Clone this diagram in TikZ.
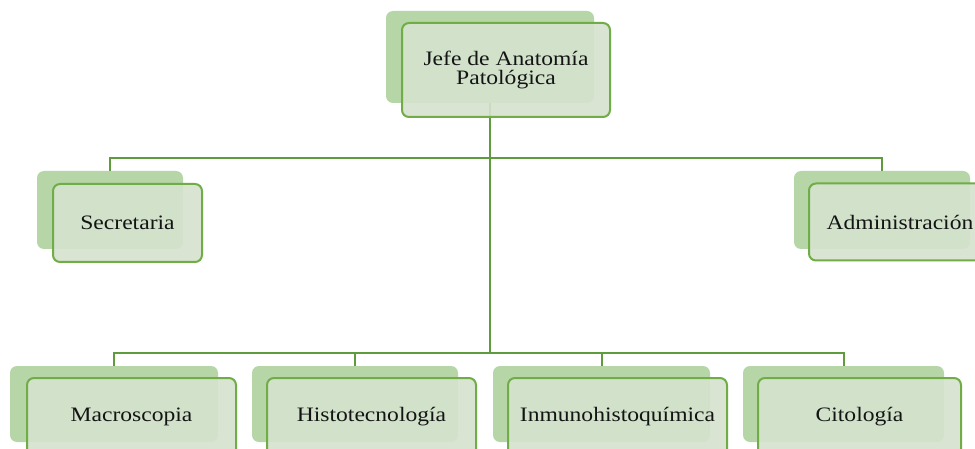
\documentclass[tikz,border=0pt]{standalone}
\usepackage{fontspec}
\setmainfont{Liberation Serif}[FakeStretch=1.15]
\begin{document}
\definecolor{backgreen}{HTML}{B6D6A7}
\definecolor{frontgreen}{HTML}{D5E3CE}
\definecolor{edgegreen}{HTML}{70AD47}
\definecolor{linkgreen}{HTML}{5E9C3E}
\begin{tikzpicture}[x=1pt,y=-1pt,
  backbox/.style={rectangle, rounded corners=7pt, fill=backgreen, inner sep=0pt, outer sep=0pt},
  frontbox/.style={rectangle, rounded corners=7pt, draw=edgegreen, line width=2pt,
    fill=frontgreen, fill opacity=0.9, text opacity=1, inner sep=0pt, outer sep=0pt,
    align=center, text=black!92, font=\fontsize{20.5pt}{18.5pt}\selectfont},
  link/.style={draw=linkgreen, line width=2pt}]
\useasboundingbox (0,0) rectangle (975,449);
\clip (0,0) rectangle (975,449);
\fill[white] (0,0) rectangle (975,449);

% back layers
\node[backbox, minimum width=208pt, minimum height=92pt] (jefeB) at (490,57) {};
\node[backbox, minimum width=146pt, minimum height=78pt] (secB) at (110,210) {};
\node[backbox, minimum width=176pt, minimum height=78pt] (admB) at (882,210) {};
\node[backbox, minimum width=208pt, minimum height=76pt] (macB) at (114,404) {};
\node[backbox, minimum width=206pt, minimum height=76pt] (hisB) at (355,404) {};
\node[backbox, minimum width=217pt, minimum height=76pt] (inmB) at (601.5,404) {};
\node[backbox, minimum width=201pt, minimum height=76pt] (citB) at (843.5,404) {};

% bus lines
\coordinate (busA) at (490,158);
\coordinate (busB) at (490,353);
\draw[link] (jefeB.south) -- (busB);
\draw[link] (secB.north) |- (busA) -| (admB.north);
\draw[link] (macB.north) |- (busB) -| (citB.north);
\draw[link] (hisB.north) -- (hisB.north |- busB);
\draw[link] (inmB.north) -- (inmB.north |- busB);

% front layers with labels
\node[frontbox, minimum width=208pt, minimum height=94pt] (jefe) at (506,70) {Jefe de Anatomía\\Patológica};
\node[frontbox, minimum width=149pt, minimum height=78pt] (sec) at (127.5,223) {Secretaria};
\node[frontbox, minimum width=182pt, minimum height=77pt] (adm) at (900,222) {Administración};
\node[frontbox, minimum width=209pt, minimum height=78pt] (mac) at (131.5,417) {Macroscopia};
\node[frontbox, minimum width=209pt, minimum height=78pt] (his) at (371.5,417) {Histotecnología};
\node[frontbox, minimum width=219pt, minimum height=78pt] (inm) at (617.5,417) {Inmunohistoquímica};
\node[frontbox, minimum width=203pt, minimum height=78pt] (cit) at (859.5,417) {Citología};
\end{tikzpicture}
\end{document}
